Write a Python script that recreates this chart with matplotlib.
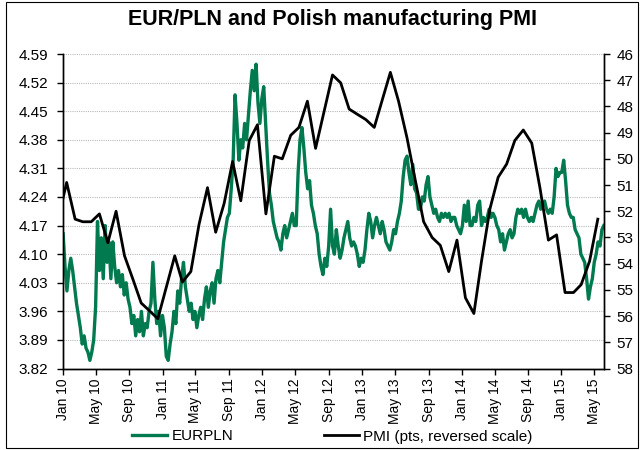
import matplotlib
matplotlib.use("Agg")
import matplotlib.pyplot as plt
import matplotlib.dates as mdates
import matplotlib.patches as patches
import pandas as pd

plt.rcParams['font.family'] = ['Liberation Sans', 'DejaVu Sans']

title = "EUR/PLN and Polish manufacturing PMI"
eur_label = "EURPLN"
pmi_label = "PMI (pts, reversed scale)"

# Weekly EUR/PLN readings (every 7 days from 2010-01-01)
eur_2010 = [4.15, 4.07, 4.01, 4.06, 4.09,
            4.06, 4.02, 3.98, 3.95,
            3.92, 3.88, 3.90, 3.87,
            3.86, 3.84, 3.86, 3.89, 3.97,
            4.18, 4.06, 4.14, 4.04,
            4.17, 4.08, 4.13, 4.04,
            4.13, 4.07, 4.03, 4.06, 4.02,
            4.05, 4.00, 4.03, 3.99,
            3.97, 3.93, 3.95, 3.90,
            3.94, 3.91, 3.96, 3.90, 3.93,
            3.92, 3.96, 3.98, 4.08,
            3.99, 3.93, 3.96, 3.90, 3.95]
eur_2011 = [3.92, 3.85, 3.84, 3.88,
            3.91, 3.96, 3.93, 4.01,
            3.98, 4.04, 4.08, 4.02,
            3.99, 3.96, 3.98, 3.94, 3.96,
            3.92, 3.95, 3.97, 3.94,
            3.99, 4.02, 3.97, 4.01,
            4.03, 3.98, 4.04, 4.06, 4.03,
            4.08, 4.13, 4.16, 4.19,
            4.20, 4.26, 4.33, 4.49, 4.42,
            4.33, 4.38, 4.36, 4.42,
            4.38, 4.44, 4.50, 4.55,
            4.50, 4.565, 4.47, 4.42, 4.48]
eur_2012 = [4.51, 4.42, 4.33, 4.25,
            4.22, 4.18, 4.16, 4.14,
            4.13, 4.11, 4.15, 4.17, 4.14,
            4.16, 4.18, 4.20, 4.17,
            4.17, 4.30, 4.38, 4.41,
            4.36, 4.30, 4.26, 4.28, 4.22,
            4.20, 4.17, 4.15, 4.10,
            4.07, 4.05, 4.09, 4.07, 4.12,
            4.21, 4.12, 4.10, 4.16,
            4.12, 4.09, 4.11, 4.14,
            4.16, 4.18, 4.14, 4.12, 4.13,
            4.12, 4.10, 4.07, 4.09]
eur_2013 = [4.08, 4.11, 4.16, 4.20,
            4.18, 4.14, 4.17, 4.19,
            4.17, 4.15, 4.18, 4.16, 4.13,
            4.12, 4.11, 4.13, 4.16,
            4.15, 4.18, 4.20, 4.23, 4.29,
            4.33, 4.34, 4.30, 4.27,
            4.32, 4.26, 4.25, 4.21,
            4.21, 4.24, 4.23, 4.27, 4.29,
            4.24, 4.22, 4.20, 4.21,
            4.19, 4.18, 4.20, 4.19,
            4.20, 4.19, 4.20, 4.18, 4.19,
            4.19, 4.17, 4.16, 4.15]
eur_2014 = [4.17, 4.22, 4.18, 4.23, 4.17,
            4.17, 4.19, 4.18, 4.22,
            4.23, 4.17, 4.19, 4.18,
            4.19, 4.21, 4.19, 4.20,
            4.19, 4.17, 4.16, 4.13, 4.15,
            4.11, 4.13, 4.15, 4.16,
            4.14, 4.15, 4.19, 4.21,
            4.20, 4.21, 4.19, 4.21, 4.19,
            4.18, 4.19, 4.18, 4.20,
            4.22, 4.23, 4.21, 4.22, 4.23,
            4.21, 4.20, 4.21, 4.20,
            4.24, 4.31, 4.29, 4.30]
eur_2015 = [4.30, 4.33, 4.28, 4.22, 4.20,
            4.19, 4.19, 4.16, 4.15,
            4.14, 4.10, 4.09, 4.08,
            4.04, 3.99, 4.02, 4.04,
            4.08, 4.10, 4.13, 4.12, 4.16,
            4.17]
eur_values = eur_2010 + eur_2011 + eur_2012 + eur_2013 + eur_2014 + eur_2015
eur_dates = pd.date_range("2010-01-01", periods=len(eur_values), freq="7D")

# Monthly PMI, Dec 2009 - May 2015
pmi_values = [52.3,
              50.9, 52.3, 52.4, 52.4, 52.1, 53.2, 52.0, 53.7, 54.6, 55.5, 55.8, 56.1,
              54.9, 53.7, 54.7, 54.3, 52.5, 51.1, 52.8, 51.7, 50.1, 51.6, 49.3, 48.7,
              52.1, 49.9, 50.0, 49.1, 48.8, 47.8, 49.6, 48.2, 46.8, 47.1, 48.1, 48.3,
              48.5, 48.8, 47.8, 46.7, 47.8, 49.2, 50.8, 52.4, 53.0, 53.3, 54.3, 53.1,
              55.3, 55.9, 53.9, 51.9, 50.7, 50.2, 49.3, 48.9, 49.4, 51.1, 53.1, 52.9,
              55.1, 55.1, 54.8, 53.9, 52.3]
pmi_dates = pd.date_range("2009-12-01", periods=len(pmi_values), freq="MS") + pd.Timedelta(days=13)

left_ticks = [3.82, 3.89, 3.96, 4.03, 4.10, 4.17, 4.24, 4.31, 4.38, 4.45, 4.52, 4.59]
right_ticks = list(range(46, 59))

green = "#007A4E"

fig = plt.figure(figsize=(6.44, 4.50), dpi=100)
ax = fig.add_axes([0.098, 0.181, 0.840, 0.699])
ax2 = ax.twinx()

ax.plot(eur_dates, eur_values, color=green, lw=2.4, label=eur_label)
ax2.plot(pmi_dates, pmi_values, color="black", lw=2.0, label=pmi_label)

ax.set_xlim(pd.Timestamp("2010-01-01"), pd.Timestamp("2015-06-06"))
ax.set_ylim(3.82, 4.59)
ax.set_yticks(left_ticks)
ax.set_yticklabels([f"{t:.2f}" for t in left_ticks])
ax2.set_ylim(58, 46)
ax2.set_yticks(right_ticks)

ax.xaxis.set_major_locator(mdates.MonthLocator(bymonth=[1, 5, 9]))
ax.xaxis.set_major_formatter(mdates.DateFormatter("%b %y"))
for lbl in ax.get_xticklabels():
    lbl.set_rotation(90)

ax.grid(axis="y", color="#BBBBBB", linestyle=(0, (1, 1)), linewidth=0.8)
ax.set_axisbelow(True)

for a in (ax, ax2):
    a.spines["top"].set_visible(False)
    for s in a.spines.values():
        s.set_linewidth(1.0)
ax.tick_params(axis="x", labelsize=10, direction="out", length=4, width=1, pad=3)
ax.tick_params(axis="y", labelsize=11, direction="out", length=4, width=1, pad=7)
ax2.tick_params(axis="y", labelsize=11, direction="out", length=4, width=1, pad=5)

fig.text(0.516, 0.957, title, ha="center", va="center", fontsize=15.5, fontweight="bold")

h1, l1 = ax.get_legend_handles_labels()
h2, l2 = ax2.get_legend_handles_labels()
fig.legend(h1 + h2, l1 + l2, loc="center", bbox_to_anchor=(0.516, 0.03), ncol=2,
           frameon=False, fontsize=11, handlelength=2.3, columnspacing=5.9,
           handletextpad=0.3)

fig.add_artist(patches.Rectangle((0.009, 0.005), 0.982, 0.99, transform=fig.transFigure,
                                 fill=False, edgecolor="black", linewidth=0.8))

fig.savefig("out.png", dpi=100)
